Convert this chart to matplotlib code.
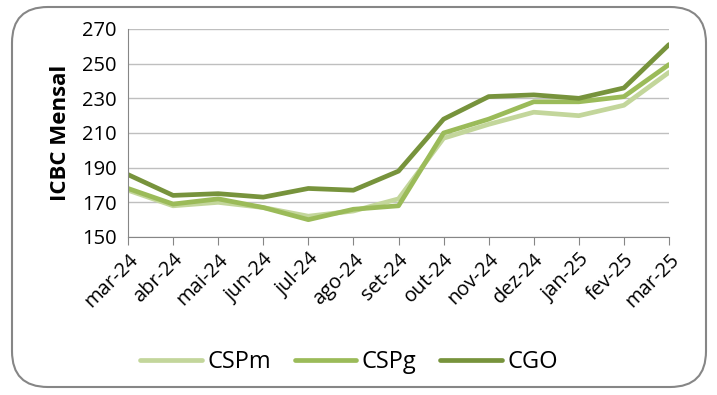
import numpy as np
import matplotlib.pyplot as plt
from matplotlib.patches import FancyBboxPatch

plt.rcParams['font.family'] = ['Open Sans', 'DejaVu Sans']

# monthly index values
months = ['mar-24', 'abr-24', 'mai-24', 'jun-24', 'jul-24', 'ago-24', 'set-24',
          'out-24', 'nov-24', 'dez-24', 'jan-25', 'fev-25', 'mar-25']
cspm = [177, 168, 170, 167, 162, 165, 172, 207, 215, 222, 220, 226, 245]
cspg = [178, 169, 172, 167, 160, 166, 168, 210, 218, 228, 228, 231, 249.5]
cgo = [186, 174, 175, 173, 178, 177, 188, 218, 231, 232, 230, 236, 261]

series = [('CSPm', cspm, '#C3D69B'), ('CSPg', cspg, '#9BBB59'), ('CGO', cgo, '#77933C')]

fig = plt.figure(figsize=(7.17, 3.95), dpi=100)

# rounded outer frame like the Excel chart area
frame = FancyBboxPatch((12 / 717, 8 / 395), 694 / 717, 380 / 395,
                       boxstyle='round,pad=0,rounding_size=0.05',
                       transform=fig.transFigure, facecolor='white',
                       edgecolor='#868686', linewidth=1.5, mutation_aspect=717 / 395,
                       zorder=-1)
fig.patches.append(frame)

ax = fig.add_axes([128 / 717, 1 - 237 / 395, 541 / 717, 208 / 395])
ax.patch.set_alpha(0)
x = np.arange(len(months))
for name, vals, col in series:
    ax.plot(x, vals, color=col, lw=3.4, label=name, solid_capstyle='round')

ax.set_xlim(0, len(months) - 1)
ax.set_ylim(150, 270)
ax.set_yticks(np.arange(150, 271, 20))
ax.set_xticks(x)
ax.set_xticklabels(months, rotation=45, ha='right', rotation_mode='anchor', fontsize=14.5)
ax.tick_params(axis='y', length=0, labelsize=14.5, pad=8)
ax.tick_params(axis='x', length=6, color='#868686', pad=3)
ax.grid(axis='y', color='#BFBFBF', lw=1)
ax.set_axisbelow(True)
for s in ['top', 'right']:
    ax.spines[s].set_visible(False)
for s in ['left', 'bottom']:
    ax.spines[s].set_color('#868686')
ax.set_ylabel('ICBC Mensal', fontsize=16, fontweight='bold', labelpad=8)

fig.legend(loc='center', bbox_to_anchor=(0.487, 1 - 362 / 395), ncol=3, frameon=False,
           fontsize=17, handlelength=2.6, columnspacing=1.0, handletextpad=0.25)

fig.savefig('out.png', dpi=100)
